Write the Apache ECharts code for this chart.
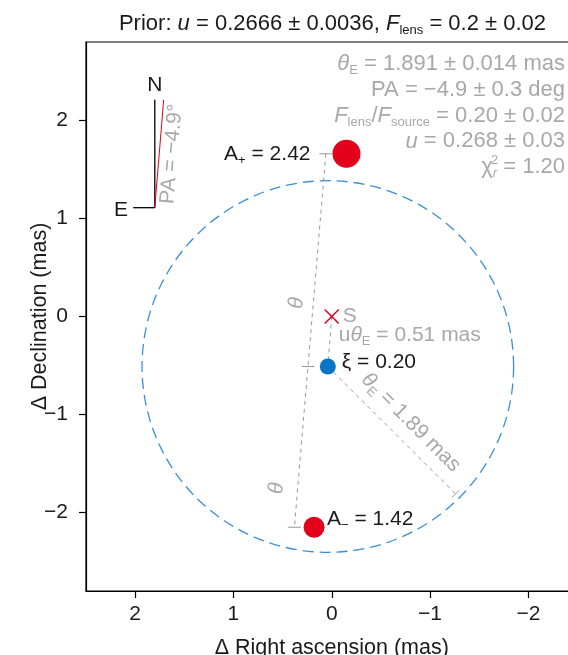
<!DOCTYPE html>
<html><head><meta charset="utf-8">
<script src="https://cdn.jsdelivr.net/npm/echarts@6/dist/echarts.min.js"></script>
<style>html,body{margin:0;padding:0;background:#fff}#c{width:568px;height:655px}</style>
</head><body><div id="c"></div>
<script>
// ---- data (mas) ----
const xTicks = [2, 1, 0, -1, -2];
const yTicks = [2, 1, 0, -1, -2];
const sourcePos = [0, 0];
const lensPos = [0.04, -0.51];
const imagePlus = [-0.15, 1.66];
const imageMinus = [0.18, -2.15];
const einsteinRadius = 1.89;
const dimensionLine = [[0.06, 1.66], [0.38, -2.15]];
const dimensionTicks = [[0.06, 1.66], [0.24, -0.51], [0.38, -2.15]];
const radiusLine = [[0.04, -0.51], [-1.26, -1.81]];
const sourceLensLine = [[0, 0], [0.04, -0.51]];
const compassNorth = [[1.8, 1.11], [1.8, 2.21]];
const compassEast = [[2.02, 1.11], [1.8, 1.11]];
const compassPA = [[1.8, 1.11], [1.71, 2.21]];
const thetaLabelPos = [[0.357, 0.138], [0.56, -1.752]];
const northLabelPos = [1.8, 2.36];
const eastLabelPos = [2.144, 1.086];
const paLabelPos = [1.628, 1.658];

const FF = 'Liberation Sans';
const BLACK = '#1a1a1a', GRAY = '#a8a8a8', RED = '#e2001a', BLUE = '#0a74c6', RING = '#3a8fd8', DASH = '#9a9a9a';

function rich(color, size) {
  size = size || 21;
  return {
    b: {fontSize: size, fontFamily: FF, fill: color, color: color, lineHeight: 26},
    i: {fontSize: size, fontFamily: FF, fill: color, color: color, fontStyle: 'italic', lineHeight: 26},
    sub: {fontSize: 13, fontFamily: FF, fill: color, color: color, lineHeight: 13, verticalAlign: 'bottom'},
    subi: {fontSize: 13, fontFamily: FF, fill: color, color: color, fontStyle: 'italic', lineHeight: 13, verticalAlign: 'bottom'},
    sup: {fontSize: 13, fontFamily: FF, fill: color, color: color, lineHeight: 13, verticalAlign: 'top'}
  };
}

function textSeries(pt, text, o) {
  return {
    type: 'custom', coordinateSystem: 'cartesian2d', silent: true, z: 20, clip: false,
    data: [pt],
    renderItem: function (params, api) {
      const p = api.coord([api.value(0), api.value(1)]);
      return {
        type: 'text', x: p[0] + (o.dx || 0), y: p[1] + (o.dy || 0), rotation: o.rotation || 0,
        style: {text: text, rich: rich(o.color, o.size), align: o.align || 'left', verticalAlign: 'middle'}
      };
    }
  };
}

function lineSeries(data, color, width, type, z) {
  return {type: 'line', data: data, symbol: 'none', silent: true, z: z || 5, clip: false,
    lineStyle: {color: color, width: width, type: type}, animation: false};
}

const series = [
  {
    type: 'custom', silent: true, z: 3,
    data: [[lensPos[0], lensPos[1], einsteinRadius]],
    renderItem: function (params, api) {
      const c = api.coord([api.value(0), api.value(1)]);
      const r = api.size([api.value(2), 0])[0];
      return {type: 'circle', shape: {cx: c[0], cy: c[1], r: r},
        style: {fill: 'none', stroke: RING, lineWidth: 1.3, lineDash: [11, 6]}};
    }
  },
  lineSeries(dimensionLine, DASH, 1, [4, 4]),
  lineSeries(sourceLensLine, DASH, 1, [4, 4]),
  lineSeries(radiusLine, DASH, 1, [4, 4]),
  lineSeries(compassNorth, '#000', 1.3, 'solid'),
  lineSeries(compassEast, '#000', 1.3, 'solid'),
  lineSeries(compassPA, RED, 1, 'solid', 6),
  {
    type: 'custom', silent: true, z: 6, data: dimensionTicks,
    renderItem: function (params, api) {
      const p = api.coord([api.value(0), api.value(1)]);
      return {type: 'line', shape: {x1: p[0] - 6.5, y1: p[1], x2: p[0] + 6.5, y2: p[1]},
        style: {stroke: DASH, lineWidth: 1}};
    }
  },
  {
    type: 'custom', silent: true, z: 6, data: [radiusLine[0].concat(radiusLine[1])],
    renderItem: function (params, api) {
      const a = api.coord([api.value(0), api.value(1)]);
      const b = api.coord([api.value(2), api.value(3)]);
      const dx = b[0] - a[0], dy = b[1] - a[1], L = Math.hypot(dx, dy);
      const px = -dy / L * 5, py = dx / L * 5;
      return {type: 'line', shape: {x1: b[0] - px, y1: b[1] - py, x2: b[0] + px, y2: b[1] + py},
        style: {stroke: DASH, lineWidth: 1}};
    }
  },
  {
    type: 'custom', silent: true, z: 8, data: [sourcePos],
    renderItem: function (params, api) {
      const p = api.coord([api.value(0), api.value(1)]);
      const s = 7;
      return {type: 'group', children: [
        {type: 'line', shape: {x1: p[0] - s, y1: p[1] - s, x2: p[0] + s, y2: p[1] + s}, style: {stroke: RED, lineWidth: 1.5}},
        {type: 'line', shape: {x1: p[0] - s, y1: p[1] + s, x2: p[0] + s, y2: p[1] - s}, style: {stroke: RED, lineWidth: 1.5}}
      ]};
    }
  },
  {type: 'scatter', data: [imagePlus], symbolSize: 28, itemStyle: {color: RED, opacity: 1}, z: 9, silent: true},
  {type: 'scatter', data: [imageMinus], symbolSize: 21, itemStyle: {color: RED, opacity: 1}, z: 9, silent: true},
  {type: 'scatter', data: [lensPos], symbolSize: 16, itemStyle: {color: BLUE, opacity: 1}, z: 9, silent: true},

  textSeries(sourcePos, '{b|S}', {dx: 11, dy: 0, color: GRAY}),
  textSeries(sourcePos, '{b|u}{i|θ}{sub|E}{b| = 0.51 mas}', {dx: 7, dy: 18.5, color: GRAY}),
  textSeries(lensPos, '{b|ξ = 0.20}', {dx: 14, dy: -4, color: BLACK}),
  textSeries(imagePlus, '{b|A}{sub|+}{b| = 2.42}', {dx: -36, dy: 0, color: BLACK, align: 'right'}),
  textSeries(imageMinus, '{b|A}{sub|−}{b| = 1.42}', {dx: 13, dy: -8, color: BLACK}),
  textSeries(thetaLabelPos[0], '{i|θ}', {color: GRAY, align: 'center', rotation: 1.487}),
  textSeries(thetaLabelPos[1], '{i|θ}', {color: GRAY, align: 'center', rotation: 1.487}),
  textSeries(lensPos, '{i|θ}{sub|E}{b| = 1.89 mas}', {dx: 83, dy: 56, color: GRAY, align: 'center', rotation: -Math.PI / 4}),
  textSeries(northLabelPos, '{b|N}', {color: BLACK, align: 'center'}),
  textSeries(eastLabelPos, '{b|E}', {color: BLACK, align: 'center'}),
  textSeries(paLabelPos, '{b|PA = −4.9°}', {color: GRAY, align: 'center', rotation: 1.487})
];

const minusFmt = v => v < 0 ? '−' + Math.abs(v) : String(v);
const axisCommon = {
  type: 'value',
  axisLine: {show: true, onZero: false, lineStyle: {color: '#000', width: 1.2}},
  splitLine: {show: false},
  nameLocation: 'middle',
  nameMoveOverlap: false,
  nameTextStyle: {fontSize: 21.5, fontFamily: FF, color: BLACK}
};

const chart = echarts.init(document.getElementById('c'), null, {renderer: 'canvas'});
chart.setOption({
  animation: false,
  backgroundColor: '#fff',
  grid: {left: 86, top: 42, width: 491.5, height: 549, show: true, borderColor: '#000', borderWidth: 1.2,
    containLabel: false, outerBoundsMode: 'none'},
  xAxis: Object.assign({}, axisCommon, {
    inverse: true, min: -2.5, max: 2.5,
    axisTick: {show: true, length: 7, customValues: xTicks, lineStyle: {color: '#000', width: 1.2}},
    axisLabel: {customValues: xTicks, margin: 13, fontSize: 21, fontFamily: FF, color: BLACK, formatter: minusFmt},
    name: 'Δ Right ascension (mas)', nameGap: 46
  }),
  yAxis: Object.assign({}, axisCommon, {
    min: -2.8, max: 2.8,
    axisTick: {show: true, length: 7, customValues: yTicks, lineStyle: {color: '#000', width: 1.2}},
    axisLabel: {customValues: yTicks, margin: 18, fontSize: 21, fontFamily: FF, color: BLACK, formatter: minusFmt},
    name: 'Δ Declination (mas)', nameGap: 35
  }),
  graphic: [
    {type: 'text', x: 332.5, y: 24, silent: true, style: {
      text: '{b|Prior: }{i|u}{b| = 0.2666 ± 0.0036, }{i|F}{sub|lens}{b| = 0.2 ± 0.02}',
      rich: rich(BLACK, 22), align: 'center', verticalAlign: 'middle'}},
    {type: 'text', x: 565, y: 64, silent: true, style: {
      text: '{i|θ}{sub|E}{b| = 1.891 ± 0.014 mas}', rich: rich(GRAY, 22), align: 'right', verticalAlign: 'middle'}},
    {type: 'text', x: 565, y: 89.8, silent: true, style: {
      text: '{b|PA = −4.9 ± 0.3 deg}', rich: rich(GRAY, 22), align: 'right', verticalAlign: 'middle'}},
    {type: 'text', x: 565, y: 115.6, silent: true, style: {
      text: '{i|F}{sub|lens}{b|/}{i|F}{sub|source}{b| = 0.20 ± 0.02}', rich: rich(GRAY, 22), align: 'right', verticalAlign: 'middle'}},
    {type: 'text', x: 565, y: 141.4, silent: true, style: {
      text: '{i|u}{b| = 0.268 ± 0.03}', rich: rich(GRAY, 22), align: 'right', verticalAlign: 'middle'}},
    {type: 'text', x: 565, y: 167.2, silent: true, style: {
      text: '{b|χ}{subi|r}{b| = 1.20}', rich: rich(GRAY, 22), align: 'right', verticalAlign: 'middle'}},
    {type: 'text', x: 491, y: 160, silent: true, style: {
      text: '2', fontSize: 13, fontFamily: FF, fill: GRAY, align: 'left', verticalAlign: 'middle'}}
  ],
  series: series
});
</script></body></html>
